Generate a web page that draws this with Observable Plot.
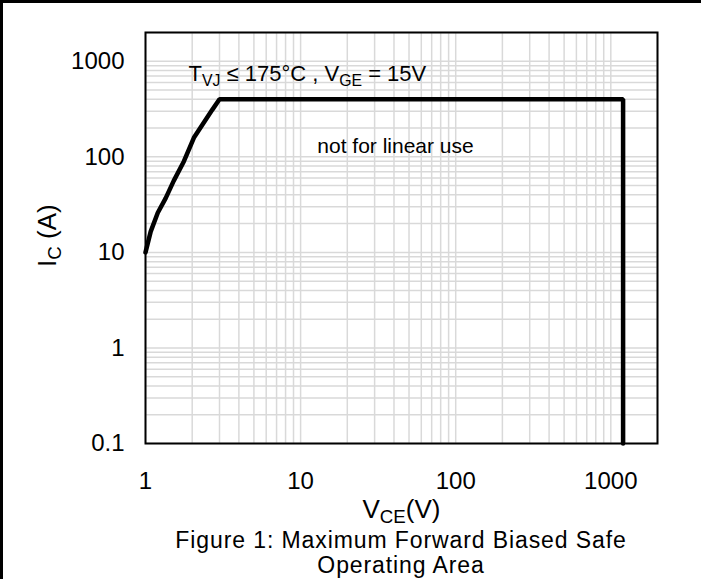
<!DOCTYPE html>
<html><head><meta charset="utf-8">
<script src="https://cdn.jsdelivr.net/npm/d3@7"></script>
<script src="https://cdn.jsdelivr.net/npm/@observablehq/plot@0.6"></script>
<style>
body{margin:0;background:#fff;font-family:"Liberation Sans",Arial,sans-serif;}
#wrap{position:relative;width:701px;height:579px;overflow:hidden;background:#fff}
#bl{position:absolute;left:0;top:0;width:3px;height:579px;background:#000}
#bt{position:absolute;left:0;top:0;width:701px;height:3px;background:#000}
#cap{position:absolute;left:51px;width:700px;top:528px;text-align:center;font-size:23px;letter-spacing:0.9px;line-height:25px;color:#000;white-space:nowrap}
#chart{position:absolute;left:0;top:0}
</style></head><body>
<div id="wrap"><div id="chart"></div><div id="cap">Figure 1: Maximum Forward Biased Safe<br>Operating Area</div><div id="bl"></div><div id="bt"></div></div>
<script>
// SOA boundary
const vce = [1, 1.08, 1.2, 1.35, 1.52, 1.77, 2.05, 2.7, 3, 1200, 1200];
const ic  = [10, 16.5, 26, 37, 56, 90, 158, 312, 400, 400, 0.1];
const xTicks = [1, 10, 100, 1000];
const yTicks = [0.1, 1, 10, 100, 1000];
const xDomain = [1, 2000];
const yDomain = [0.1, 2000];
const annotation = "T_{VJ} ≤ 175°C , V_{GE} = 15V";
const note = "not for linear use";
const xTitle = "V_{CE}(V)";
const yTitle = "I_{C} (A)";

const data = vce.map((v, i) => ({v, i: ic[i]}));
const xGrid = d3.scaleLog().domain(xDomain).ticks();
const yGrid = d3.scaleLog().domain(yDomain).ticks();
const grid = {stroke: "#d9d9d9", strokeOpacity: 1, strokeWidth: 1.5};

const chart = Plot.plot({
  width: 701, height: 579,
  marginLeft: 145, marginRight: 44, marginTop: 32, marginBottom: 136,
  style: {fontFamily: "Liberation Sans, Arial, sans-serif", fontSize: "24px", color: "#000", background: "transparent", overflow: "visible"},
  x: {type: "log", domain: xDomain},
  y: {type: "log", domain: yDomain},
  marks: [
    Plot.gridX(xGrid, grid),
    Plot.gridY(yGrid, grid),
    Plot.axisX(xTicks, {tickSize: 0, tickPadding: 28, tickFormat: d => String(d), label: null, fontSize: 24}),
    Plot.axisY(yTicks, {tickSize: 0, tickPadding: 21, tickFormat: d => String(d), label: null, fontSize: 24}),
    Plot.line(data, {x: "v", y: "i", stroke: "#000", strokeWidth: 4.5, strokeLinejoin: "miter"}),
    Plot.frame({stroke: "#000", strokeWidth: 2}),
    Plot.text([annotation], {frameAnchor: "top-left", dx: 43, dy: 41, textAnchor: "start", lineAnchor: "middle", fontSize: 22}),
    Plot.text([note], {frameAnchor: "top", dx: -6, dy: 114, lineAnchor: "middle", fontSize: 21}),
    Plot.text([yTitle], {frameAnchor: "left", dx: -98, dy: 29, rotate: -90, lineAnchor: "middle", fontSize: 26}),
    Plot.text([xTitle], {frameAnchor: "bottom", dy: 66, lineAnchor: "middle", fontSize: 26})
  ]
});

d3.select(chart).selectAll("text").each(function() {
  const t = this.textContent;
  if (!t.includes("_{")) return;
  const sel = d3.select(this);
  sel.text(null);
  const parts = t.split(/(_\{[^}]*\})/).filter(s => s);
  let sub = false;
  parts.forEach(p => {
    if (p.startsWith("_{")) {
      sel.append("tspan").attr("font-size", "0.72em").attr("dy", 5).text(p.slice(2, -1));
      sub = true;
    } else {
      const ts = sel.append("tspan").text(p);
      if (sub) { ts.attr("dy", -5); sub = false; }
    }
  });
});
document.getElementById("chart").appendChild(chart);
</script>
</body></html>
